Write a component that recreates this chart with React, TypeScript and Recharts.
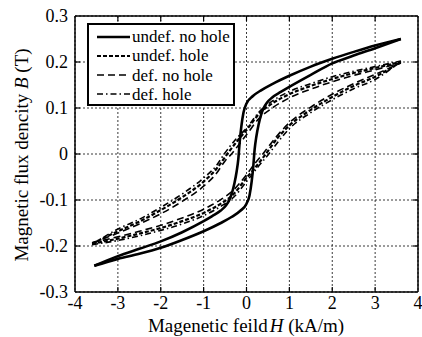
import React from 'react';
import { LineChart, Line, XAxis, YAxis, CartesianGrid, ReferenceLine } from 'recharts';

// H (kA/m), B (T) pairs, each branch sorted by H
const undefNoHoleUpper = [
  [-3.55, -0.243], [-3, -0.222], [-2.5, -0.206], [-2, -0.19], [-1.5, -0.17], [-1, -0.146],
  [-0.8, -0.135], [-0.6, -0.123], [-0.48, -0.112], [-0.4, -0.1], [-0.34, -0.085], [-0.28, -0.063],
  [-0.23, -0.038], [-0.19, -0.01], [-0.16, 0.025], [-0.12, 0.06], [-0.07, 0.09], [0, 0.11],
  [0.15, 0.126], [0.35, 0.139], [0.6, 0.152], [1, 0.17], [1.5, 0.19], [2, 0.207], [2.5, 0.222],
  [3, 0.236], [3.6, 0.25],
];
const undefNoHoleLower = [
  [-3.55, -0.243], [-3, -0.228], [-2.5, -0.217], [-2, -0.204], [-1.5, -0.187], [-1, -0.168],
  [-0.6, -0.15], [-0.35, -0.137], [-0.15, -0.124], [0, -0.108], [0.07, -0.09], [0.12, -0.06],
  [0.16, -0.025], [0.19, 0.01], [0.23, 0.038], [0.28, 0.063], [0.34, 0.085], [0.4, 0.1],
  [0.48, 0.112], [0.6, 0.123], [0.8, 0.135], [1, 0.146], [1.5, 0.172], [2, 0.197], [2.5, 0.214],
  [3, 0.23], [3.6, 0.25],
];
const undefHoleUpper = [
  [-3.6, -0.195], [-3, -0.168], [-2.5, -0.147], [-2, -0.122], [-1.5, -0.094], [-1, -0.06],
  [-0.7, -0.032], [-0.45, 0], [-0.2, 0.03], [0, 0.052], [0.3, 0.088], [0.6, 0.11], [1, 0.13],
  [1.5, 0.148], [2, 0.163], [2.5, 0.176], [3, 0.187], [3.6, 0.2],
];
const undefHoleLower = [
  [-3.6, -0.195], [-3, -0.184], [-2.5, -0.173], [-2, -0.161], [-1.5, -0.146], [-1, -0.128],
  [-0.6, -0.108], [-0.3, -0.087], [0, -0.052], [0.2, -0.03], [0.45, 0], [0.7, 0.032], [1, 0.062],
  [1.5, 0.096], [2, 0.124], [2.5, 0.148], [3, 0.168], [3.6, 0.2],
];
const defNoHoleUpper = [
  [-3.6, -0.193], [-3, -0.172], [-2.5, -0.152], [-2, -0.13], [-1.5, -0.103], [-1, -0.07],
  [-0.7, -0.042], [-0.5, -0.015], [-0.35, 0], [-0.1, 0.03], [0, 0.042], [0.3, 0.078], [0.6, 0.1],
  [1, 0.122], [1.5, 0.141], [2, 0.157], [2.5, 0.171], [3, 0.183], [3.6, 0.198],
];
const defNoHoleLower = [
  [-3.6, -0.193], [-3, -0.18], [-2.5, -0.168], [-2, -0.155], [-1.5, -0.139], [-1, -0.12],
  [-0.6, -0.099], [-0.3, -0.078], [0, -0.045], [0.2, -0.02], [0.38, 0], [0.7, 0.038], [1, 0.068],
  [1.5, 0.102], [2, 0.13], [2.5, 0.153], [3, 0.173], [3.6, 0.198],
];
const defHoleUpper = [
  [-3.6, -0.197], [-3, -0.163], [-2.5, -0.142], [-2, -0.116], [-1.5, -0.087], [-1, -0.052],
  [-0.7, -0.025], [-0.52, 0], [-0.25, 0.032], [0, 0.056], [0.3, 0.092], [0.6, 0.115], [1, 0.136],
  [1.5, 0.153], [2, 0.168], [2.5, 0.18], [3, 0.19], [3.6, 0.202],
];
const defHoleLower = [
  [-3.6, -0.197], [-3, -0.188], [-2.5, -0.178], [-2, -0.166], [-1.5, -0.152], [-1, -0.134],
  [-0.6, -0.114], [-0.3, -0.094], [0, -0.06], [0.25, -0.03], [0.52, 0], [0.75, 0.028], [1, 0.055],
  [1.5, 0.09], [2, 0.118], [2.5, 0.142], [3, 0.162], [3.6, 0.202],
];

const hTicks = [-4, -3, -2, -1, 0, 1, 2, 3, 4];
const bTicks = [-0.3, -0.2, -0.1, 0, 0.1, 0.2, 0.3];

const FONT = 'Liberation Serif';
const PLOT = { left: 75, right: 418, top: 16, bottom: 292 };

const toPoints = (arr: number[][]) => arr.map(([h, b]) => ({ h, b }));

const series = [
  { name: 'undef. no hole', upper: undefNoHoleUpper, lower: undefNoHoleLower, dash: undefined, width: 2.6 },
  { name: 'undef. hole', upper: undefHoleUpper, lower: undefHoleLower, dash: '4 2', width: 2.2 },
  { name: 'def. no hole', upper: defNoHoleUpper, lower: defNoHoleLower, dash: '7 4', width: 1.6 },
  { name: 'def. hole', upper: defHoleUpper, lower: defHoleLower, dash: '6 3 1.5 3', width: 1.6 },
];

const XTick = (props: any) => {
  const { x, payload } = props;
  const edge = payload.value === -4 || payload.value === 4;
  return (
    <g>
      {!edge && <line x1={x} x2={x} y1={PLOT.bottom} y2={PLOT.bottom - 5} stroke="#000" strokeWidth={1.2} />}
      {!edge && <line x1={x} x2={x} y1={PLOT.top} y2={PLOT.top + 5} stroke="#000" strokeWidth={1.2} />}
      <text x={x} y={309} textAnchor="middle" fontSize={18} style={{ fontFamily: FONT }} fill="#000">
        {payload.value}
      </text>
    </g>
  );
};

const YTick = (props: any) => {
  const { y, payload } = props;
  const edge = payload.value === -0.3 || payload.value === 0.3;
  return (
    <g>
      {!edge && <line x1={PLOT.left} x2={PLOT.left + 5} y1={y} y2={y} stroke="#000" strokeWidth={1.2} />}
      {!edge && <line x1={PLOT.right} x2={PLOT.right - 5} y1={y} y2={y} stroke="#000" strokeWidth={1.2} />}
      <text x={68} y={y + 6} textAnchor="end" fontSize={18} style={{ fontFamily: FONT }} fill="#000">
        {payload.value}
      </text>
    </g>
  );
};

const XTitle = () => (
  <text x={246} y={332} textAnchor="middle" fontSize={19} style={{ fontFamily: FONT }} fill="#000">
    Magenetic feild<tspan fontStyle="italic" dx={2}>H</tspan> (kA/m)
  </text>
);

const YTitle = () => (
  <text transform="translate(28,155) rotate(-90)" textAnchor="middle" fontSize={19} style={{ fontFamily: FONT }} fill="#000">
    Magnetic flux dencity <tspan fontStyle="italic">B</tspan> (T)
  </text>
);

const LegendBox = () => (
  <div
    style={{
      position: 'absolute', left: 87, top: 23, width: 144, height: 79,
      border: '2px solid #000', background: '#fff', fontFamily: FONT, fontSize: 17,
    }}
  >
    {series.map((s, i) => (
      <div key={s.name} style={{ position: 'absolute', left: 6, top: 2 + i * 19.3, height: 19, display: 'flex', alignItems: 'center' }}>
        <svg width={36} height={10} style={{ marginRight: 1 }}>
          <line x1={2} x2={35} y1={5} y2={5} stroke="#000" strokeWidth={s.width} strokeDasharray={s.dash} />
        </svg>
        <span style={{ lineHeight: '19px', whiteSpace: 'nowrap' }}>{s.name}</span>
      </div>
    ))}
  </div>
);

export default function App() {
  return (
    <div style={{ position: 'absolute', left: 0, top: 0, width: 422, height: 337, background: '#fff', fontFamily: FONT }}>
      <LineChart width={422} height={337} margin={{ top: 16, right: 4, left: 0, bottom: 0 }}>
        <CartesianGrid stroke="#222" strokeDasharray="2 2" strokeWidth={0.9} />
        <XAxis
          type="number"
          dataKey="h"
          domain={[-4, 4]}
          ticks={hTicks}
          allowDataOverflow
          height={45}
          tickLine={false}
          axisLine={{ stroke: '#000', strokeWidth: 1.5 }}
          tick={<XTick />}
          label={<XTitle />}
        />
        <YAxis
          type="number"
          dataKey="b"
          domain={[-0.3, 0.3]}
          ticks={bTicks}
          allowDataOverflow
          width={75}
          tickLine={false}
          axisLine={{ stroke: '#000', strokeWidth: 1.5 }}
          tick={<YTick />}
          label={<YTitle />}
        />
        <ReferenceLine y={0.3} stroke="#000" strokeWidth={1.5} />
        <ReferenceLine x={4} stroke="#000" strokeWidth={1.5} />
        {series.flatMap((s) => [
          <Line
            key={s.name + '-up'}
            data={toPoints(s.upper)}
            dataKey="b"
            type="monotoneX"
            stroke="#000"
            strokeWidth={s.width}
            strokeDasharray={s.dash}
            dot={false}
            activeDot={false}
            isAnimationActive={false}
          />,
          <Line
            key={s.name + '-low'}
            data={toPoints(s.lower)}
            dataKey="b"
            type="monotoneX"
            stroke="#000"
            strokeWidth={s.width}
            strokeDasharray={s.dash}
            dot={false}
            activeDot={false}
            isAnimationActive={false}
          />,
        ])}
      </LineChart>
      <LegendBox />
    </div>
  );
}
